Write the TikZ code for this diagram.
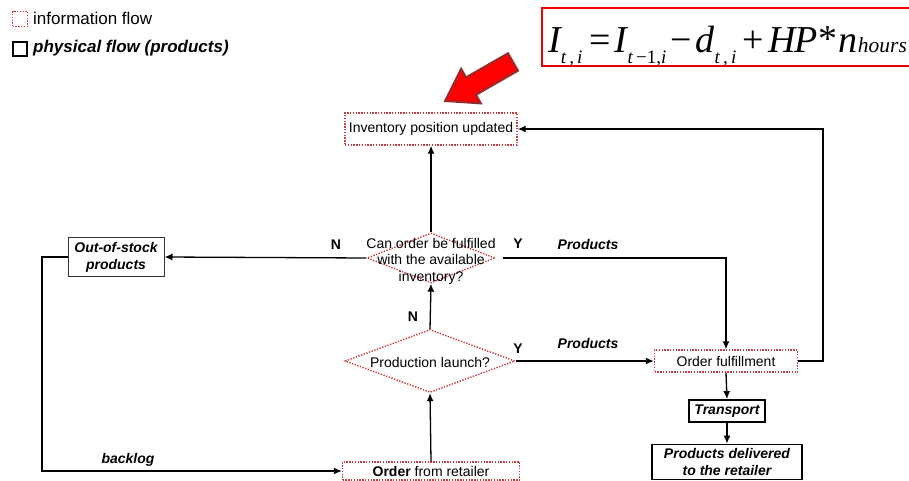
\documentclass[tikz,border=0pt]{standalone}
\usepackage{fontspec}
\setmainfont{Liberation Sans}
\newfontfamily\eqfont{Liberation Serif}
\usetikzlibrary{arrows.meta,shapes.geometric,calc}

\definecolor{infored}{RGB}{196,64,64}
\definecolor{eqred}{RGB}{235,0,0}
\definecolor{arrowedge}{RGB}{150,45,45}

\tikzset{
  info/.style={draw=infored, line width=1.4pt, dash pattern=on 1.4pt off 1.4pt},
  infobox/.style={info, rectangle, inner sep=0pt, fill=white, font=\fontsize{14}{16}\selectfont},
  decision/.style={info, diamond, inner sep=0pt},
  physbox/.style={draw=black, line width=1.8pt, fill=white, inner sep=0pt, align=center,
    font=\fontsize{14}{16}\selectfont\bfseries\itshape},
  flowline/.style={line width=1.3pt, -{Latex[length=8pt,width=7pt]}},
  lbl/.style={font=\fontsize{14}{16}\selectfont\bfseries, inner sep=0pt},
  lblit/.style={font=\fontsize{14}{16}\selectfont\bfseries\itshape, inner sep=0pt},
  legendtext/.style={anchor=west, inner sep=0pt, font=\fontsize{17}{19}\selectfont},
}

\newcommand{\eqsub}[1]{\raisebox{-11pt}{\fontsize{19}{19}\selectfont #1}}

\begin{document}
\begin{tikzpicture}[x=1pt, y=-1pt]
\useasboundingbox (0,0) rectangle (909,481);

% legend
\node[info, minimum width=15pt, minimum height=15pt, inner sep=0pt] (leginfo) at (20,19) {};
\node[legendtext] (leginfotxt) at (33,18) {information flow};
\node[draw=black, line width=1.8pt, minimum width=14pt, minimum height=14pt, inner sep=0pt] (legphys) at (20,49) {};
\node[legendtext, font=\fontsize{17}{19}\selectfont\bfseries\itshape] (legphystxt) at (33,48) {physical flow (products)};

% inventory balance equation
\draw[eqred, line width=2.6pt] (542,8) rectangle (925,66);
\node[anchor=base west, inner sep=0pt] (eq) at (548,53) {\eqfont\fontsize{38}{38}\selectfont
  \itshape I\eqsub{t\,,\,i}\hspace{7pt}\upshape=\hspace{4pt}%
  \itshape I\eqsub{t\upshape\,−1,\itshape i}\hspace{4pt}\upshape−\hspace{4pt}%
  \itshape d\eqsub{t\,,\,i}\hspace{6pt}\upshape+\hspace{5pt}%
  \itshape H\hspace{-1.5pt}P\hspace{1pt}\upshape\raisebox{1pt}{*}\hspace{1pt}\itshape n{\fontsize{21.5}{22}\selectfont hours}};

% highlight arrow pointing at the inventory update
\filldraw[fill=red, draw=arrowedge, line width=2pt, line join=miter]
  (445,101) -- (480.9,103.4) -- (476,94.8) -- (518,70.7) -- (508,53.3)
  -- (466,77.4) -- (461.1,68.8) -- cycle;

% process nodes
\node[infobox, minimum width=172pt, minimum height=32pt] (inv) at (431,129) {Inventory position updated};
\node[decision, minimum width=128pt, minimum height=50pt] (can) at (431,258) {};
\node[align=center, inner sep=0pt, font=\fontsize{14}{16.5}\selectfont] (cantxt) at (431,261)
  {Can order be fulfilled\\with the available\\inventory?};
\node[decision, minimum width=170pt, minimum height=63pt] (prod) at (430,361) {};
\node[inner sep=0pt, font=\fontsize{14}{16}\selectfont] (prodtxt) at (430,362) {Production launch?};
\node[infobox, minimum width=177pt, minimum height=18pt] (ord) at (431,471) {\textbf{Order} from retailer};
\node[infobox, minimum width=143pt, minimum height=22pt] (of) at (726,361) {Order fulfillment};
\node[physbox, line width=1pt, draw=black!80, minimum width=96pt, minimum height=39pt,
  font=\fontsize{14}{17}\selectfont\bfseries\itshape] (oos) at (116,257) {Out-of-stock\\products};
\node[physbox, minimum width=76pt, minimum height=22pt] (tr) at (727,411) {Transport};
\node[physbox, minimum width=150pt, minimum height=35pt, font=\fontsize{14}{17}\selectfont\bfseries\itshape]
  (del) at (727,462) {Products delivered\\to the retailer};

% connectors
\coordinate (ofright) at (823,361);
\coordinate (invright) at (823,129);
\coordinate (leftdown) at (42,471);
\coordinate (leftup) at (42,257);

\draw[flowline] (can.north) -- (inv.south);
\draw[flowline] (prod.north) -- (can.south);
\draw[flowline] (ord.north) -- (prod.south);
\draw[flowline] (can.west) -- (oos.east);
\draw[flowline] ([xshift=7pt]can.east) -| (of.north);
\draw[flowline] (prod.east) -- (of.west);
\draw[flowline] (of.east) -- (ofright) -- (invright) -- (inv.east);
\draw[flowline] (oos.west) -- (leftup) -- (leftdown) -- (ord.west);
\draw[flowline] (of.south) -- (tr.north);
\draw[flowline] (tr.south) -- (del.north);

% branch labels
\node[lbl] (nup) at (336,245) {N};
\node[lbl] (yup) at (518,244) {Y};
\node[lblit] (produp) at (588,244) {Products};
\node[lbl] (nlow) at (413,317) {N};
\node[lbl] (ylow) at (518,349) {Y};
\node[lblit] (prodlow) at (588,343) {Products};
\node[lblit] (backlog) at (128,460) {backlog};
\end{tikzpicture}
\end{document}
